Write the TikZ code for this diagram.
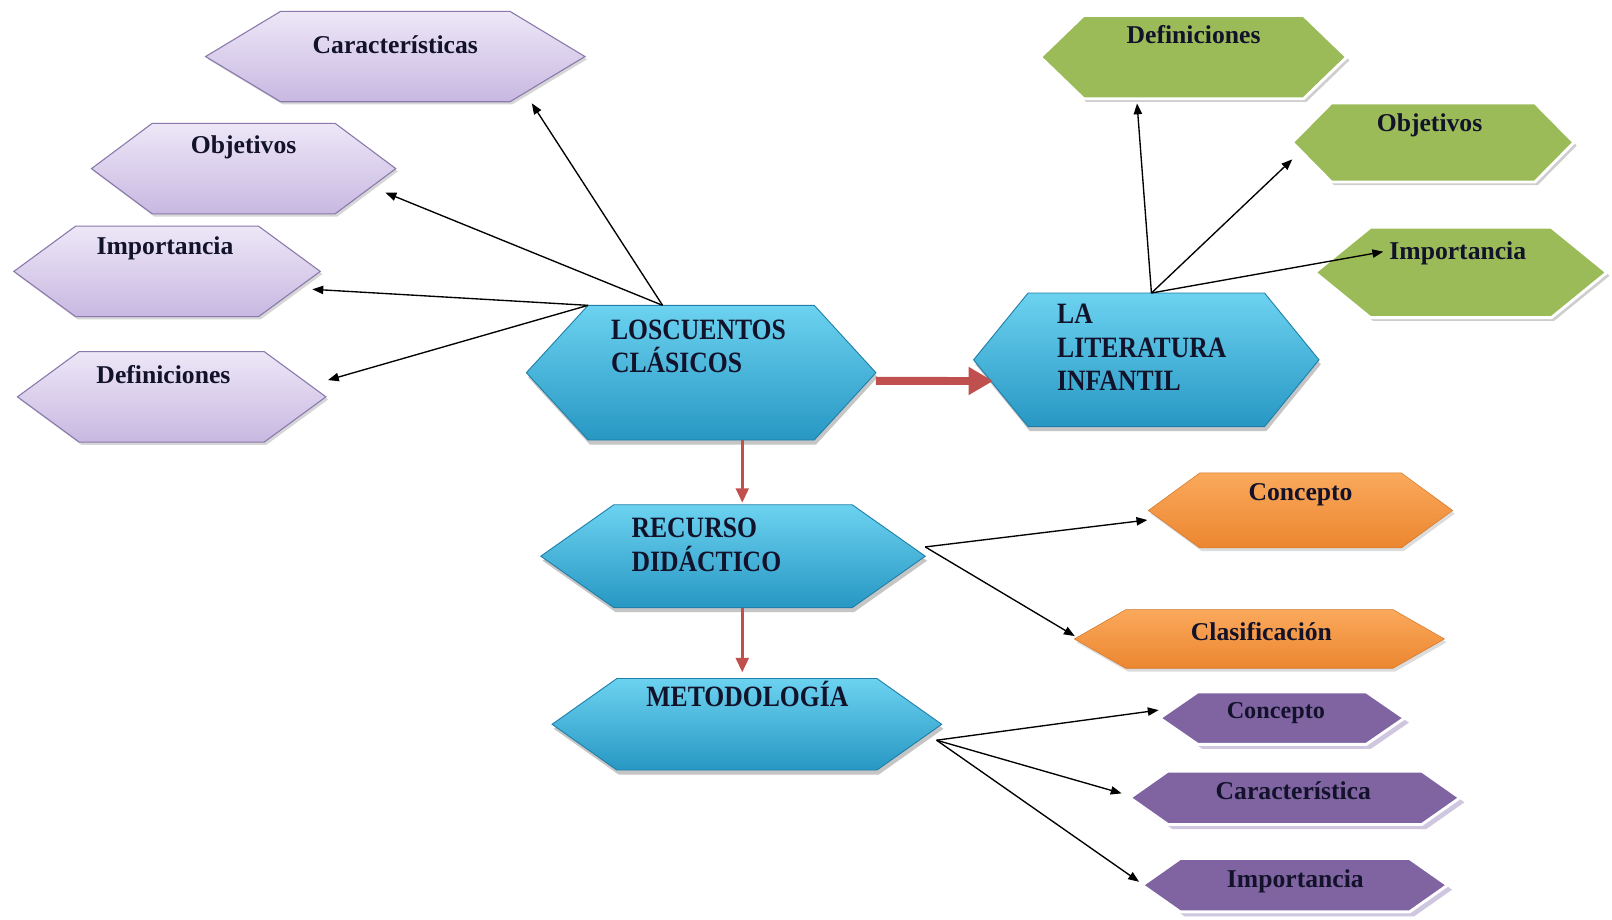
\documentclass[tikz,border=0pt]{standalone}
\usepackage{fontspec}
\setmainfont{Liberation Serif}
\usepackage{graphicx}
\usetikzlibrary{arrows.meta,shadows}
\definecolor{lilacT}{HTML}{EDE7F7}
\definecolor{lilacB}{HTML}{C8B8E1}
\definecolor{lilacD}{HTML}{8A79AC}
\definecolor{blueT}{HTML}{6CD2F0}
\definecolor{blueB}{HTML}{2797C3}
\definecolor{blueD}{HTML}{1F7FA8}
\definecolor{greenF}{HTML}{9BBB59}
\definecolor{orT}{HTML}{FAA95C}
\definecolor{orB}{HTML}{EC8630}
\definecolor{purF}{HTML}{8064A2}
\definecolor{purS}{HTML}{CFC6E0}
\definecolor{redC}{HTML}{C0504D}
\definecolor{txt}{HTML}{12122A}
\newcommand\hexshape[7]{%
  \node[hexbox, minimum width=#5*0.02cm, minimum height=#6*0.02cm] (#1) at (#3,#4) {};
  \path[#2] (#1.west) -- ([xshift=#7*0.02cm]#1.north west) -- ([xshift=-#7*0.02cm]#1.north east) -- (#1.east) -- ([xshift=-#7*0.02cm]#1.south east) -- ([xshift=#7*0.02cm]#1.south west) -- cycle;%
}
\newcommand\talltext[1]{\scalebox{1}[1.15]{#1}}
\tikzset{
  hexbox/.style={rectangle, inner sep=0pt, outer sep=0pt, draw=none},
  hexLilac/.style={top color=lilacT, bottom color=lilacB, draw=lilacD, line width=0.6pt,
    drop shadow={shadow xshift=1.2pt, shadow yshift=-1.5pt, fill=black!35, opacity=0.45}},
  hexBlue/.style={top color=blueT, bottom color=blueB, draw=blueD, line width=0.5pt,
    drop shadow={shadow xshift=1pt, shadow yshift=-2.5pt, fill=black!45, opacity=0.5}},
  hexGreen/.style={fill=greenF, draw=white, line width=1.6pt,
    drop shadow={shadow xshift=1.5pt, shadow yshift=-1.8pt, fill=black!35, opacity=0.55}},
  hexOrange/.style={top color=orT, bottom color=orB, draw=orB!90!black, line width=0.3pt,
    drop shadow={shadow xshift=1.2pt, shadow yshift=-1.8pt, fill=black!30, opacity=0.45}},
  hexPurple/.style={fill=purF, draw=white, line width=1.6pt,
    drop shadow={shadow xshift=2.5pt, shadow yshift=-2.5pt, fill=purS, opacity=1}},
  lbl/.style={anchor=base, inner sep=0pt, font=\bfseries\fontsize{14.2}{17}\selectfont, text=txt},
  blbl/.style={anchor=base west, inner sep=0pt, font=\bfseries\fontsize{14.2}{17}\selectfont, text=txt},
  con/.style={-{Triangle[length=6pt,width=4.6pt]}, line width=0.75pt, draw=black},
  redthin/.style={-{Triangle[length=8pt,width=7pt]}, line width=1.7pt, draw=redC, fill=redC},
  redthick/.style={-{Triangle[length=13.6pt,width=14.7pt]}, line width=4.4pt, draw=redC, fill=redC}
}
\begin{document}
\begin{tikzpicture}[x=0.02cm, y=-0.02cm]
\path[use as bounding box, fill=white] (0,0) rectangle (1568,894);
% shapes
\hexshape{lCar}{hexLilac}{384.5}{55}{369}{88}{73}
\hexshape{lObj}{hexLilac}{237}{164}{296}{88}{59}
\hexshape{lImp}{hexLilac}{162.5}{264}{298}{88}{60}
\hexshape{lDef}{hexLilac}{167}{386}{300}{88}{60}
\hexshape{los}{hexBlue}{682}{362.5}{340}{131}{60}
\hexshape{lit}{hexBlue}{1115}{350}{336}{130}{53}
\hexshape{rec}{hexBlue}{713}{541}{374}{100}{71}
\hexshape{met}{hexBlue}{726.5}{704.5}{379}{89}{63}
\hexshape{gDef}{hexGreen}{1161}{55.5}{298}{81}{42}
\hexshape{gObj}{hexGreen}{1394}{138.5}{274}{77}{38}
\hexshape{gImp}{hexGreen}{1421}{265}{284}{88}{54}
\hexshape{oCon}{hexOrange}{1265}{496.5}{296}{73}{50}
\hexshape{oCla}{hexOrange}{1225}{621.5}{360}{57}{50}
\hexshape{pCon}{hexPurple}{1247}{698.5}{238}{51}{37}
\hexshape{pCar}{hexPurple}{1259.5}{776}{321}{52}{37}
\hexshape{pImp}{hexPurple}{1259.5}{861}{297}{52}{37}
% red connectors
\draw[redthick] ([shift={(0,8)}]los.east) -- ([shift={(19,20.6)}]lit.west);
\draw[redthin] ([shift={(40,0)}]los.south) -- ([shift={(9,-2)}]rec.north);
\draw[redthin] ([shift={(9,0)}]rec.south) -- ([shift={(-4.5,-6)}]met.north);
% black connectors
\draw[con] ([shift={(-37.5,0)}]los.north) -- ([shift={(-51.7,1.5)}]lCar.south east);
\draw[con] ([shift={(-37.5,0)}]los.north) -- ([shift={(-10,23.4)}]lObj.east);
\draw[con] ([shift={(60,0)}]los.north west) -- ([shift={(-7.6,17.4)}]lImp.east);
\draw[con] ([shift={(60,0)}]los.north west) -- ([shift={(2,-16.3)}]lDef.east);
\draw[con] ([shift={(5,0)}]lit.north) -- ([shift={(-55,4.6)}]gDef.south);
\draw[con] ([shift={(5,0)}]lit.north) -- ([shift={(0,16.5)}]gObj.west);
\draw[con] ([shift={(5,0)}]lit.north) -- ([shift={(-75.5,-20.2)}]gImp.center);
\draw[con] ([shift={(0,-9)}]rec.east) -- ([shift={(-1,9.3)}]oCon.west);
\draw[con] ([shift={(0,-9)}]rec.east) -- ([shift={(0.4,-2.8)}]oCla.west);
\draw[con] ([shift={(-5,15.5)}]met.east) -- ([shift={(-1,-7.8)}]pCon.west);
\draw[con] ([shift={(-5,15.5)}]met.east) -- ([shift={(-8,-4.3)}]pCar.west);
\draw[con] ([shift={(-5,15.5)}]met.east) -- ([shift={(-3,-3.3)}]pImp.west);
% labels
\node[lbl] (tlCar) at (384.5,52) {Características};
\node[lbl] (tlObj) at (237,149) {Objetivos};
\node[lbl] (tlImp) at (160.5,248) {Importancia};
\node[lbl] (tlDef) at (159,373) {Definiciones};
\node[blbl] (tLos1) at (594,330) {\talltext{LOSCUENTOS}};
\node[blbl] (tLos2) at (594,362) {\talltext{CLÁSICOS}};
\node[blbl] (tLit1) at (1028,315) {\talltext{LA}};
\node[blbl] (tLit2) at (1028,348) {\talltext{LITERATURA}};
\node[blbl] (tLit3) at (1028,380) {\talltext{INFANTIL}};
\node[blbl] (tRec1) at (614,522.5) {\talltext{RECURSO}};
\node[blbl] (tRec2) at (614,555.5) {\talltext{DIDÁCTICO}};
\node[lbl] (tMet) at (727,687) {\talltext{METODOLOGÍA}};
\node[lbl] (tgDef) at (1161,42) {Definiciones};
\node[lbl] (tgObj) at (1390.5,128) {Objetivos};
\node[lbl] (tgImp) at (1418,252) {Importancia};
\node[lbl] (toCon) at (1265,486.5) {Concepto};
\node[lbl] (toCla) at (1227,622.6) {Clasificación};
\node[lbl, font=\bfseries\fontsize{13.4}{16}\selectfont] (tpCon) at (1241,698.6) {Concepto};
\node[lbl] (tpCar) at (1258,778) {Característica};
\node[lbl] (tpImp) at (1260,863) {Importancia};
\end{tikzpicture}
\end{document}
